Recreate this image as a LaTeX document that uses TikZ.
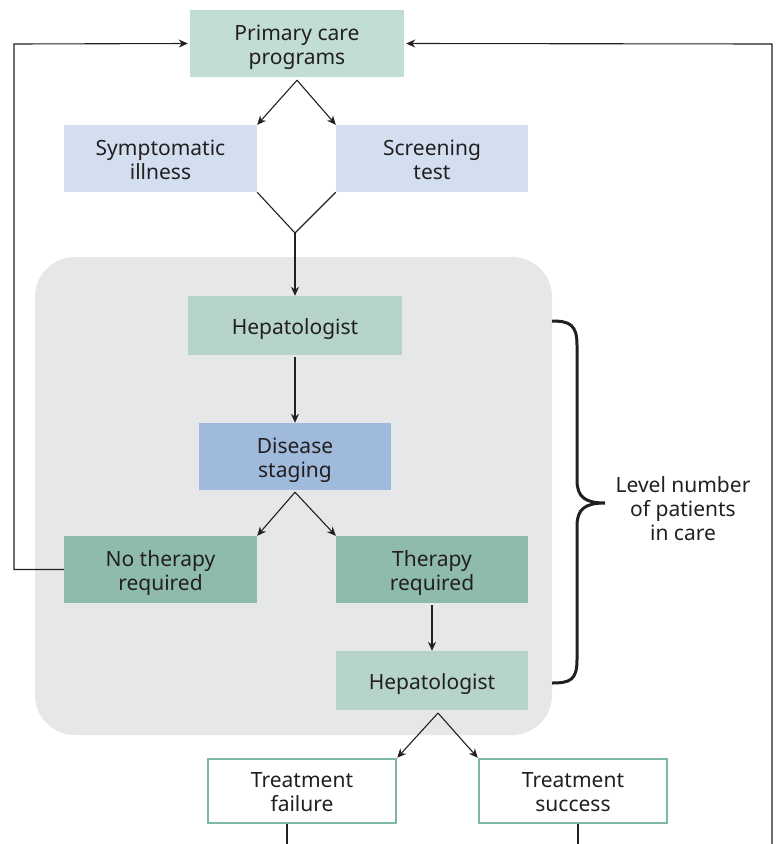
\documentclass[tikz,border=0pt]{standalone}
\usepackage{fontspec}
\setmainfont{Noto Sans}
\usetikzlibrary{arrows.meta}
\definecolor{txt}{HTML}{231F20}
\definecolor{pgreen}{HTML}{C2DDD2}
\definecolor{hgreen}{HTML}{B6D5C8}
\definecolor{dgreen}{HTML}{8FBCAA}
\definecolor{lblue}{HTML}{D3DFF0}
\definecolor{mblue}{HTML}{9FBADB}
\definecolor{gbg}{HTML}{E6E7E9}
\definecolor{tborder}{HTML}{7FB8A6}
\newcommand\tb[1]{\begin{tabular}[t]{@{}c@{}}#1\end{tabular}}
\tikzset{
  box/.style={draw=none, inner sep=0pt},
  lbl/.style={inner sep=0pt, anchor=base, text=txt, font=\fontsize{21}{24}\selectfont},
  one/.style={lbl, yshift=-8.5pt},
  two/.style={lbl, yshift=3.5pt},
  arr/.style={draw=txt, line width=1.1pt, -{Stealth[length=9pt,width=8pt]}},
  ln/.style={draw=txt, line width=1.1pt},
}
\begin{document}
\begin{tikzpicture}[x=1pt,y=-1pt]
\useasboundingbox (0,0) rectangle (776,844);
\fill[gbg, rounded corners=40pt] (35,257) rectangle (552,735);
\node[box, fill=pgreen, minimum width=214pt, minimum height=67pt] (P) at (297,43.5) {};
\node[box, fill=lblue, minimum width=193pt, minimum height=67pt] (S) at (160.5,158.5) {};
\node[box, fill=lblue, minimum width=192pt, minimum height=67pt] (Sc) at (432,158.5) {};
\node[box, fill=hgreen, minimum width=214pt, minimum height=59pt] (H1) at (295,325.5) {};
\node[box, fill=mblue, minimum width=192pt, minimum height=67pt] (D) at (295,456.5) {};
\node[box, fill=dgreen, minimum width=193pt, minimum height=67pt] (N) at (160.5,569.5) {};
\node[box, fill=dgreen, minimum width=192pt, minimum height=67pt] (T) at (432,569.5) {};
\node[box, fill=hgreen, minimum width=192pt, minimum height=59pt] (H2) at (432,680.5) {};
\node[box, fill=white, draw=tborder, line width=2.5pt, minimum width=188pt, minimum height=64pt] (TF) at (302,791) {};
\node[box, fill=white, draw=tborder, line width=2.5pt, minimum width=188pt, minimum height=64pt] (TS) at (573,791) {};
% texts
\node[two] (Pt) at (P) {\tb{Primary care\\programs}};
\node[two] (St) at (S) {\tb{Symptomatic\\illness}};
\node[two] (Sct) at (Sc) {\tb{Screening\\test}};
\node[one] (H1t) at (H1) {\tb{Hepatologist}};
\node[two] (Dt) at (D) {\tb{Disease\\staging}};
\node[two] (Nt) at (N) {\tb{No therapy\\required}};
\node[two] (Tt) at (T) {\tb{Therapy\\required}};
\node[one] (H2t) at (H2) {\tb{Hepatologist}};
\node[two] (TFt) at (TF) {\tb{Treatment\\failure}};
\node[two] (TSt) at (TS) {\tb{Treatment\\success}};
\node[lbl] (L) at (683,492) {\tb{Level number\\of patients\\in care}};
% connectors
\draw[arr] ([yshift=-3pt]P.south) -- (S.north east);
\draw[arr] ([yshift=-3pt]P.south) -- (Sc.north west);
\coordinate (m) at (295,233);
\draw[ln] (S.south east) -- (m) -- (Sc.south west);
\draw[arr] (m) -- (H1.north);
\draw[arr] ([yshift=-2pt]H1.south) -- (D.north);
\draw[arr] ([yshift=-2pt]D.south) -- (N.north east);
\draw[arr] ([yshift=-2pt]D.south) -- (T.north west);
\draw[arr] ([yshift=-2pt]T.south) -- (H2.north);
\coordinate (h2b) at (438,713);
\draw[arr] (h2b) -- (TF.north east);
\draw[arr] (h2b) -- (TS.north west);
\coordinate (lc) at (14,44);
\draw[arr] (N.west) -| (lc) -- ([xshift=-2pt]P.west);
\coordinate (rb) at (772,844);
\coordinate (rt) at (772,44);
\draw[arr] (rb) -- (rt) -- ([xshift=2pt]P.east);
\coordinate (fb) at (287,844);
\coordinate (sb) at (578,844);
\draw[ln] (TF.south -| fb) -- (fb);
\draw[ln] (TS.south -| sb) -- (sb);
% brace
\draw[txt, line width=3pt] (552,321) .. controls (570,321) and (577,325) .. (577,345) -- (577,480) .. controls (577,497) and (585,503) .. (605,503) .. controls (585,503) and (577,509) .. (577,526) -- (577,660) .. controls (577,680) and (570,683) .. (552,683);
\end{tikzpicture}
\end{document}
